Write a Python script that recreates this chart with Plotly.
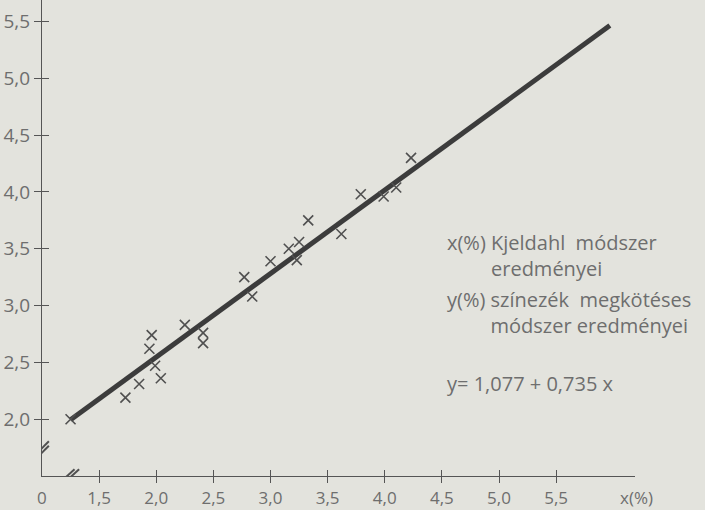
import plotly.graph_objects as go

# Measured data (x: Kjeldahl %, y: dye-binding %)
x_vals = [1.25, 1.73, 1.85, 1.96, 1.94, 1.99, 2.04, 2.25, 2.41, 2.41, 2.77, 2.84,
          3.00, 3.16, 3.25, 3.23, 3.33, 3.62, 3.79, 3.99, 4.10, 4.23]
y_vals = [2.00, 2.19, 2.31, 2.74, 2.62, 2.47, 2.36, 2.83, 2.76, 2.67, 3.25, 3.08,
          3.39, 3.50, 3.56, 3.40, 3.75, 3.63, 3.98, 3.96, 4.04, 4.30]

# regression y = 1.077 + 0.735 x
intercept = 1.077
slope = 0.735
fit_x = [1.25, 5.97]
fit_y = [intercept + slope * v for v in fit_x]

x_tickvals = [1.5, 2.0, 2.5, 3.0, 3.5, 4.0, 4.5, 5.0, 5.5]
x_ticktext = ["1,5", "2,0", "2,5", "3,0", "3,5", "4,0", "4,5", "5,0", "5,5"]
y_tickvals = [2.0, 2.5, 3.0, 3.5, 4.0, 4.5, 5.0, 5.5]
y_ticktext = ["2,0", "2,5", "3,0", "3,5", "4,0", "4,5", "5,0", "5,5"]

X_RANGE = [1.0, 6.19]
Y_RANGE = [1.5, 5.69]

BG = "#e3e3dd"
INK = "#3c3c3c"
TXT = "#6e6e6e"
AX = "#555555"
FONT = "Open Sans"

fig = go.Figure()

fig.add_trace(go.Scatter(
    x=fit_x, y=fit_y, mode="lines",
    line=dict(color=INK, width=5), hoverinfo="skip", showlegend=False))

fig.add_trace(go.Scatter(
    x=x_vals, y=y_vals, mode="markers",
    marker=dict(symbol="x-thin", size=10, line=dict(color="#505050", width=1.6)),
    showlegend=False, cliponaxis=False))

# invisible trace carrying the overlay axes (inside half of the crossing ticks)
fig.add_trace(go.Scatter(x=[X_RANGE[0]], y=[Y_RANGE[0]], xaxis="x2", yaxis="y2",
                         mode="markers", marker=dict(opacity=0),
                         showlegend=False, hoverinfo="skip"))

fig.update_layout(
    width=705, height=510,
    margin=dict(l=42, r=70, t=0, b=34, autoexpand=False),
    paper_bgcolor=BG, plot_bgcolor=BG,
    xaxis=dict(range=X_RANGE, showgrid=False, zeroline=False,
               showline=True, linecolor=AX, linewidth=1.3,
               tickvals=x_tickvals, ticktext=x_ticktext,
               ticks="outside", ticklen=6, tickwidth=1.3, tickcolor=AX,
               tickfont=dict(family=FONT, size=17, color=TXT), automargin=False),
    yaxis=dict(range=Y_RANGE, showgrid=False, zeroline=False,
               showline=True, linecolor=AX, linewidth=1.3,
               tickvals=y_tickvals, ticktext=y_ticktext,
               ticks="outside", ticklen=7, tickwidth=1.3, tickcolor=AX,
               tickfont=dict(family=FONT, size=19, color=TXT), automargin=False),
    xaxis2=dict(range=X_RANGE, overlaying="x", anchor="y2", side="bottom",
                showgrid=False, zeroline=False, showline=False,
                tickvals=x_tickvals, ticks="inside", ticklen=6, tickwidth=1.3,
                tickcolor=AX, showticklabels=False, automargin=False),
    yaxis2=dict(range=Y_RANGE, overlaying="y", anchor="x2", side="left",
                showgrid=False, zeroline=False, showline=False,
                tickvals=y_tickvals, ticks="inside", ticklen=7, tickwidth=1.3,
                tickcolor=AX, showticklabels=False, automargin=False),
)

# axis break marks (double slashes)
shapes = []
for dx in (-0.02, 0.02):
    shapes.append(dict(type="line", xref="x", yref="y",
                       x0=1.24 + dx - 0.065, y0=1.5 - 0.06,
                       x1=1.24 + dx + 0.065, y1=1.5 + 0.06,
                       line=dict(color="#505050", width=2)))
for dy in (-0.02, 0.02):
    shapes.append(dict(type="line", xref="x", yref="y",
                       x0=1.0 - 0.06, y0=1.726 + dy - 0.06,
                       x1=1.0 + 0.06, y1=1.726 + dy + 0.06,
                       line=dict(color="#505050", width=2)))
fig.update_layout(shapes=shapes)

HIDE = "<span style='color:rgba(0,0,0,0)'>%s</span>"
ann_font = dict(family=FONT, size=20, color=TXT)
small_font = dict(family=FONT, size=17, color=TXT)
annotations = [
    dict(x=1.0, y=1.5, xref="x", yref="y", text="0", xanchor="center", yanchor="top",
         yshift=-8, font=small_font),
    dict(x=1.003, y=0, xref="paper", yref="paper", text="x(%)", xanchor="center",
         yanchor="top", yshift=-8, font=small_font),
    dict(x=4.53, y=3.442, xref="x", yref="y",
         text="x(%) Kjeldahl  módszer<br>" + (HIDE % "x(%) ") + "eredményei",
         xanchor="left", yanchor="middle", align="left"),
    dict(x=4.53, y=2.941, xref="x", yref="y",
         text="y(%) színezék  megkötéses<br>" + (HIDE % "y(%) ") + "módszer eredményei",
         xanchor="left", yanchor="middle", align="left"),
    dict(x=4.53, y=2.317, xref="x", yref="y", text="y= 1,077 + 0,735 x",
         xanchor="left", yanchor="middle"),
]
for a in annotations:
    a["showarrow"] = False
    a.setdefault("font", ann_font)
fig.update_layout(annotations=annotations)

fig.write_html(
    "out.html",
    config={"displayModeBar": False},
    post_script="document.body.style.margin='0';document.body.style.background='%s';" % BG,
)
